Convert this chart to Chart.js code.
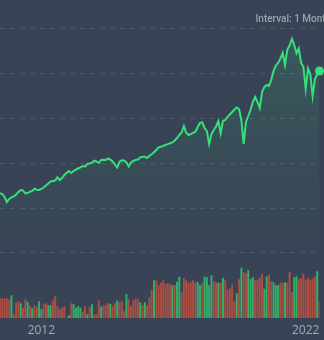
<!DOCTYPE html>
<html><head><meta charset="utf-8">
<script src="https://cdn.jsdelivr.net/npm/chart.js@4.4.1/dist/chart.umd.min.js"></script>
<style>html,body{margin:0;padding:0;background:#394356;overflow:hidden}canvas{display:block}</style>
</head><body><canvas id="c" width="324" height="340"></canvas>
<script>
// ---- data (monthly, May 2011 – Dec 2022) ----
const START_YEAR = 2011, START_MONTH = 5;
const PRICE = [1333,1317,1250,1138,1205,1239,1261,1306,1362,1406,1395,1328,1339,1368,1384,1435,1413,1406,1429,1462,
1507,1551,1596,1607,1618,1690,1629,1674,1741,1786,1830,1786,1830,1859,1886,1913,1942,1926,1987,1998,
2016,2060,2042,2009,2076,2083,2076,2109,2083,2042,1975,1908,2038,2069,2065,2020,1931,2020,2054,2076,
2087,2136,2150,2147,2121,2170,2203,2248,2299,2359,2371,2388,2411,2429,2449,2467,2511,2567,2634,2690,
2835,2683,2634,2656,2683,2708,2813,2902,2913,2790,2723,2433,2656,2746,2824,2946,2672,2946,2969,3036,
3092,3147,3203,3248,3214,2969,2433,2924,3058,3192,3371,3482,3371,3237,3594,3705,3750,3728,3862,4063,
4185,4241,4342,4464,4196,4542,4632,4777,4643,4458,4565,4241,4158,3661,4118,3996,3504,3884,3996,4063];
const VOLUME = [38,39,39,39,37,45,7,31,33,29,20,37,32,25,19,25,22,33,17,27,
29,25,25,35,43,23,17,20,23,0,5,29,27,20,23,20,12,23,7,21,
27,7,7,35,22,25,26,30,28,23,29,35,31,33,13,47,37,23,35,39,
37,31,25,31,25,41,56,75,75,65,70,75,68,69,68,65,66,72,82,51,
79,75,70,71,75,70,72,65,69,82,81,65,85,73,70,70,70,80,76,56,
59,67,33,49,77,100,91,89,95,77,81,75,76,81,88,58,83,86,73,71,
65,65,70,70,71,70,92,51,81,83,77,79,88,76,80,75,79,82,93,33];
const DIRECTION = ("d"+"ddddudddud"+"dududduudd"+"uudddddduu"+"duuuuddudu"+"dddudddudd"+"uddduddddd"+
  "ududdduddd"+"dddduduudd"+"ddddduuduu"+"uuddududdd"+"ddududduuu"+"dddduudduu"+"udduddduud"+"dddddddud").split("");
const GRID_VALUES = [0,1000,2000,3000,4000,5000];
const TICK_INDEX = [18,133];
const TICK_LABELS = ["2012","2022"];
const INTERVAL_TEXT = "Interval: 1 Month";

const CATEGORIES = PRICE.map((_, i) => {
  const m = START_MONTH - 1 + i;
  return (START_YEAR + Math.floor(m / 12)) + "-" + String(m % 12 + 1).padStart(2, "0");
});

const GREEN = '#35e07a';
const UP = 'rgba(46,204,113,0.8)', DOWN = 'rgba(200,80,60,0.8)';

const intervalLabel = {
  id: 'intervalLabel',
  afterDraw(chart) {
    const c = chart.ctx;
    c.save();
    c.font = "500 10px Roboto";
    c.fillStyle = '#9aa1ad';
    c.textBaseline = 'middle';
    c.textAlign = 'left';
    c.fillText(INTERVAL_TEXT, 255.5, 19.5);
    c.restore();
  }
};

new Chart(document.getElementById('c'), {
  type: 'line',
  data: {
    labels: CATEGORIES,
    datasets: [
      {
        type: 'line', data: PRICE, yAxisID: 'y', order: 0,
        borderColor: GREEN, borderWidth: 2, tension: 0,
        pointRadius: ctx => ctx.dataIndex === PRICE.length - 1 ? 4.5 : 0,
        pointBackgroundColor: GREEN, pointBorderWidth: 0, pointHoverRadius: 0,
        fill: 'start',
        backgroundColor: ctx => {
          const a = ctx.chart.chartArea;
          if (!a) return 'transparent';
          const g = ctx.chart.ctx.createLinearGradient(0, a.top, 0, a.bottom);
          g.addColorStop(0, 'rgba(53,224,122,0.16)');
          g.addColorStop(0.5, 'rgba(53,224,122,0.06)');
          g.addColorStop(0.85, 'rgba(53,224,122,0)');
          return g;
        }
      },
      {
        type: 'bar', data: VOLUME, yAxisID: 'yv', order: 1,
        backgroundColor: DIRECTION.map(d => d === 'u' ? UP : DOWN),
        barThickness: 1.3, borderWidth: 0
      }
    ]
  },
  options: {
    responsive: false, animation: false,
    layout: { autoPadding: false, padding: { left: 0, right: 4.5, top: 10, bottom: 0 } },
    plugins: { legend: { display: false }, tooltip: { enabled: false }, title: { display: false } },
    scales: {
      x: {
        type: 'category', offset: false,
        grid: { display: false, drawTicks: false }, border: { display: false },
        afterFit: s => { s.paddingLeft = 0; s.paddingRight = 0; s.height = 22; },
        ticks: {
          autoSkip: false, maxRotation: 0, minRotation: 0, padding: 5.5,
          color: '#a3aab6', font: { family: "'Open Sans'", size: 12 },
          callback: (v, i) => { const k = TICK_INDEX.indexOf(i); return k >= 0 ? TICK_LABELS[k] : ''; }
        }
      },
      y: {
        position: 'right', min: -1451, max: 5424,
        afterBuildTicks: s => { s.ticks = GRID_VALUES.map(v => ({ value: v })); },
        ticks: { display: false },
        border: { display: false, dash: [5, 5] },
        grid: { color: 'rgba(255,255,255,0.1)', drawTicks: false, lineWidth: 1 }
      },
      yv: {
        display: false, min: 0, max: 616
      }
    }
  },
  plugins: [intervalLabel]
});
</script></body></html>
